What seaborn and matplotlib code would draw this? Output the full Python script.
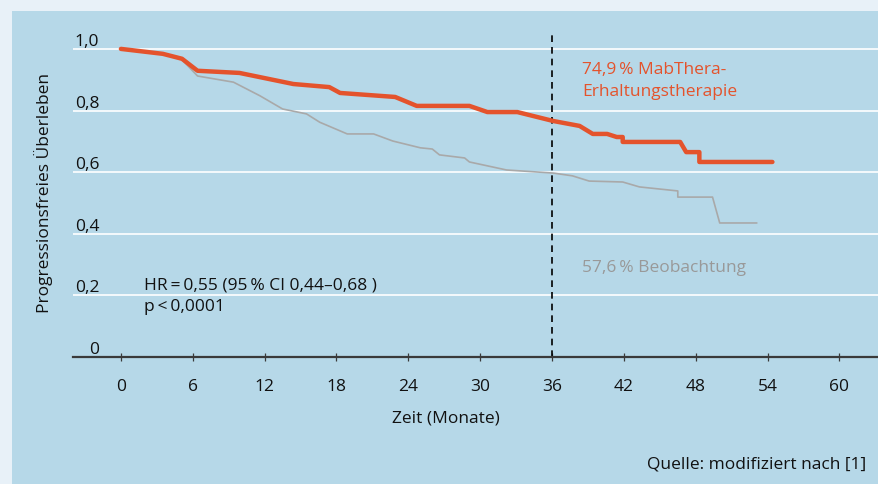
"""
Kaplan-Meier: progressionsfreies Ueberleben, MabThera-Erhaltung vs. Beobachtung.
Speichert out.png (879x485).
"""

import matplotlib
matplotlib.use("Agg")
import matplotlib.pyplot as plt
from matplotlib.patches import Rectangle
import seaborn as sns

sns.set_theme(style="white")
plt.rcParams["font.family"] = ["Open Sans", "DejaVu Sans"]
FS = 12.5

# ── Daten ─────────────────────────────────────────────────────────────────────
mab_t = [0, 3.5, 5.1, 6.4, 9.9, 14.4, 17.4, 18.3, 22.9, 24.7, 29.1, 30.6, 33.1,
         36.1, 38.3, 39.4, 40.6, 41.4, 41.9, 41.9, 46.7, 47.2, 48.3, 48.3, 54.4]
mab_s = [1.0, 0.984, 0.968, 0.929, 0.922, 0.886, 0.876, 0.857, 0.844, 0.815,
         0.815, 0.795, 0.795, 0.766, 0.75, 0.724, 0.724, 0.714, 0.714, 0.698,
         0.698, 0.665, 0.665, 0.633, 0.633]

beo_t = [0, 3.5, 5.1, 6.4, 9.4, 11.6, 13.5, 15.5, 16.6, 18.9, 21.1, 22.7, 25.0,
         26.0, 26.6, 28.7, 29.1, 32.2, 36.1, 37.7, 39.1, 41.9, 43.3, 46.5, 46.5,
         49.4, 50.0, 53.1]
beo_s = [1.0, 0.984, 0.965, 0.912, 0.892, 0.848, 0.805, 0.789, 0.762, 0.724,
         0.724, 0.701, 0.679, 0.675, 0.656, 0.646, 0.633, 0.607, 0.597, 0.588,
         0.571, 0.568, 0.552, 0.539, 0.519, 0.519, 0.435, 0.435]

x_ticks = [0, 6, 12, 18, 24, 30, 36, 42, 48, 54, 60]
y_ticks = [0, 0.2, 0.4, 0.6, 0.8, 1.0]
y_labels = ["0", "0,2", "0,4", "0,6", "0,8", "1,0"]
landmark = 36

ORANGE = "#e4532c"
GRAY = "#a9a9a9"
BG_OUT = "#e8f1f8"
BG_PANEL = "#b6d8e8"
DARK = "#3a3a3a"

fig = plt.figure(figsize=(8.79, 4.85), dpi=100, facecolor=BG_OUT)
panel = Rectangle((12 / 879, 0), 1, 1 - 12 / 485, transform=fig.transFigure,
                  facecolor=BG_PANEL, edgecolor="none")
panel.set_zorder(-10)
fig.add_artist(panel)
ax = fig.add_axes([73 / 879, 127 / 485, 806 / 879, 346 / 485])
ax.set_zorder(1)
ax.set_facecolor("none")

sns.lineplot(x=beo_t, y=beo_s, ax=ax, color=GRAY, linewidth=1.2,
             estimator=None, sort=False, zorder=3)
sns.lineplot(x=mab_t, y=mab_s, ax=ax, color=ORANGE, linewidth=3.2,
             estimator=None, sort=False, zorder=4)
ax.plot([landmark, landmark], [0, 1.055], color="black", linewidth=1.2,
        dashes=(4, 3), zorder=2)

ax.set_xlim(-4.0, 63.3)
ax.set_ylim(0, 1.123)
ax.set_xticks(x_ticks)
ax.set_yticks(y_ticks)
ax.set_yticklabels(y_labels)
ax.yaxis.grid(True, color="white", linewidth=1.2)
ax.set_axisbelow(True)

for s in ["top", "right", "left"]:
    ax.spines[s].set_visible(False)
ax.spines["bottom"].set_color(DARK)
ax.spines["bottom"].set_linewidth(1.6)
ax.spines["bottom"].set_zorder(5)

ax.tick_params(axis="x", bottom=True, direction="inout", length=6, width=0.9,
               color=DARK, pad=12, labelsize=FS, labelcolor="#111")
ax.tick_params(axis="y", left=False, length=0, pad=-19, labelsize=FS,
               labelcolor="#111")
for lab in ax.get_yticklabels():
    lab.set_verticalalignment("bottom")

ax.set_xlabel("Zeit (Monate)", fontsize=FS, color="#111")
ax.xaxis.set_label_coords(0.463, -0.152)
ax.set_ylabel("Progressionsfreies Überleben", fontsize=FS, color="#111")
ax.yaxis.label.set_verticalalignment("center")
ax.yaxis.set_label_coords(-0.036, 0.477)

ax.text(38.5, 0.962, "74,9\u2009% MabThera-\nErhaltungstherapie", color=ORANGE,
        fontsize=FS, ha="left", va="top", linespacing=1.5)
ax.text(38.5, 0.318, "57,6\u2009% Beobachtung", color="#999999",
        fontsize=FS, ha="left", va="top")
ax.text(1.9, 0.262, "HR\u2009=\u20090,55 (95\u2009% CI 0,44–0,68 )\np\u2009<\u20090,0001",
        color="#111", fontsize=FS, ha="left", va="top", linespacing=1.5)

fig.text(866 / 879, 1 - 465 / 485, "Quelle: modifiziert nach [1]", ha="right",
         va="center", fontsize=FS, color="#111")

fig.savefig("out.png", dpi=100, facecolor=BG_OUT)
